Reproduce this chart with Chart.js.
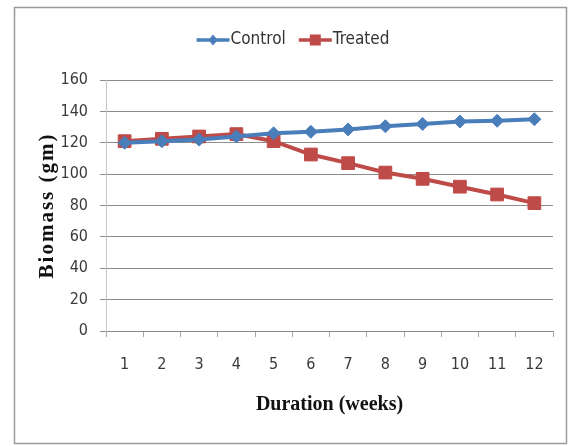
<!DOCTYPE html>
<html>
<head>
<meta charset="utf-8">
<script src="https://cdn.jsdelivr.net/npm/chart.js@4.4.1/dist/chart.umd.min.js"></script>
<style>
  html, body { margin: 0; padding: 0; background: #ffffff; }
  #wrap { position: relative; width: 570px; height: 446px; }
  canvas { display: block; }
</style>
</head>
<body>
<div id="wrap"><canvas id="chart" width="570" height="446"></canvas></div>
<script>
// Weekly biomass of control and treated plants
const weeks = ['1', '2', '3', '4', '5', '6', '7', '8', '9', '10', '11', '12'];
const controlBiomass = [120, 121, 122, 124, 126, 127, 128.5, 130.5, 132, 133.5, 134, 135];
const treatedBiomass = [121, 122.5, 124, 125.5, 121, 112.5, 107, 101, 97, 92, 87, 81.5];
const yTicks = [0, 20, 40, 60, 80, 100, 120, 140, 160];

const narrowFont = "'Liberation Sans Narrow', 'DejaVu Sans Condensed', 'Liberation Sans', sans-serif";
const serifFont = "'Liberation Serif', 'DejaVu Serif', serif";
const BLUE = '#4a7ebb';
const RED = '#be4b48';

// Outer frame around the whole figure
const framePlugin = {
  id: 'frame',
  beforeDraw(chart) {
    const ctx = chart.ctx;
    ctx.save();
    ctx.strokeStyle = '#9a9a9a';
    ctx.lineWidth = 1.5;
    ctx.strokeRect(14.5, 7.5, 552, 436);
    ctx.restore();
  }
};

// Letter-spaced vertical axis title
const spacedTitlePlugin = {
  id: 'spacedTitle',
  beforeDraw(chart) {
    const s = chart.scales.y;
    if (s && !s._spacedTitle) {
      const orig = s.drawTitle;
      s.drawTitle = function () {
        const ctx = this.ctx;
        ctx.save();
        ctx.letterSpacing = '2px';
        orig.apply(this, arguments);
        ctx.restore();
      };
      s._spacedTitle = true;
    }
  }
};

// Legend drawn as line segment with marker, centered above the plot
const lineLegendPlugin = {
  id: 'lineLegend',
  afterDraw(chart) {
    const ctx = chart.ctx;
    const sets = chart.data.datasets;
    const lineLen = 33, gap = 1, itemGap = 13, cy = 40;
    ctx.save();
    ctx.font = '17px ' + narrowFont;
    const widths = sets.map(ds => ctx.measureText(ds.label).width);
    const total = widths.reduce((a, w) => a + lineLen + gap + w, 0) + itemGap * (sets.length - 1);
    let x = 293 - total / 2;
    sets.forEach((ds, i) => {
      ctx.strokeStyle = ds.borderColor;
      ctx.lineWidth = 3.5;
      ctx.beginPath();
      ctx.moveTo(x, cy);
      ctx.lineTo(x + lineLen, cy);
      ctx.stroke();
      ctx.fillStyle = ds.borderColor;
      const mx = x + lineLen / 2;
      ctx.beginPath();
      if (ds.pointStyle === 'rectRot') {
        ctx.moveTo(mx, cy - 5.5);
        ctx.lineTo(mx + 4.5, cy);
        ctx.lineTo(mx, cy + 5.5);
        ctx.lineTo(mx - 4.5, cy);
        ctx.closePath();
      } else {
        ctx.rect(mx - 5.5, cy - 5.5, 11, 11);
      }
      ctx.fill();
      ctx.fillStyle = '#333333';
      ctx.textBaseline = 'middle';
      ctx.textAlign = 'left';
      ctx.fillText(ds.label, x + lineLen + gap, cy);
      x += lineLen + gap + widths[i] + itemGap;
    });
    ctx.restore();
  }
};

new Chart(document.getElementById('chart'), {
  type: 'line',
  data: {
    labels: weeks,
    datasets: [
      {
        label: 'Control',
        data: controlBiomass,
        borderColor: BLUE,
        backgroundColor: BLUE,
        borderWidth: 4,
        pointStyle: 'rectRot',
        pointRadius: 6.5,
        pointBorderWidth: 1,
        tension: 0,
        fill: false
      },
      {
        label: 'Treated',
        data: treatedBiomass,
        borderColor: RED,
        backgroundColor: RED,
        borderWidth: 4,
        pointStyle: 'rect',
        pointRadius: 9,
        pointBorderWidth: 1,
        tension: 0,
        fill: false
      }
    ]
  },
  options: {
    responsive: false,
    animation: false,
    devicePixelRatio: 1,
    layout: { padding: { top: 80, right: 17, bottom: 0, left: 0 } },
    plugins: {
      legend: { display: false },
      tooltip: { enabled: false },
      title: { display: false }
    },
    scales: {
      x: {
        type: 'category',
        offset: true,
        afterFit(scale) { scale.height = 115; },
        grid: {
          offset: true,
          drawOnChartArea: false,
          drawTicks: true,
          tickLength: 6,
          color: '#a6a6a6'
        },
        border: { display: true, color: '#8c8c8c', width: 1 },
        ticks: {
          color: '#3a3a3a',
          padding: 18,
          maxRotation: 0,
          autoSkip: false,
          font: { family: narrowFont, size: 16 }
        },
        title: {
          display: true,
          text: 'Duration (weeks)',
          color: '#111111',
          font: { family: serifFont, size: 20, weight: 'bold' },
          padding: { top: 0, bottom: 29 }
        }
      },
      y: {
        min: 0,
        max: 160,
        afterFit(scale) { scale.width = 106; },
        afterBuildTicks(scale) { scale.ticks = yTicks.map(v => ({ value: v })); },
        grid: {
          color: '#8c8c8c',
          lineWidth: 1,
          drawTicks: true,
          tickLength: 6
        },
        border: { display: true, color: '#c4c4c4', width: 1 },
        ticks: {
          color: '#3a3a3a',
          padding: 12,
          font: { family: narrowFont, size: 16 }
        },
        title: {
          display: true,
          text: 'Biomass (gm)',
          color: '#111111',
          font: { family: serifFont, size: 21, weight: 'bold' },
          padding: { top: 35, bottom: 0 }
        }
      }
    }
  },
  plugins: [framePlugin, spacedTitlePlugin, lineLegendPlugin]
});
</script>
</body>
</html>
